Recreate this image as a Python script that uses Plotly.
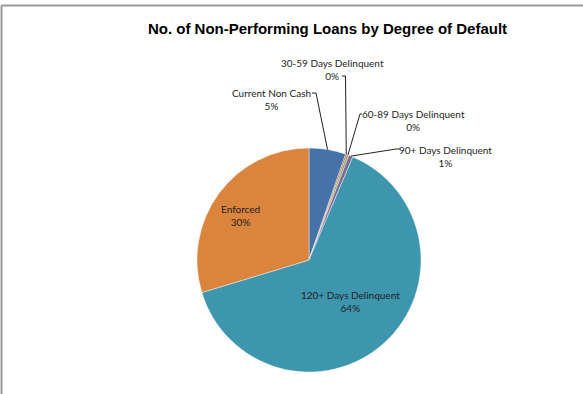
import math
import plotly.graph_objects as go

# Non-performing loans, share by degree of default (clockwise from 12 o'clock)
categories = [
    "Current Non Cash",
    "30-59 Days Delinquent",
    "60-89 Days Delinquent",
    "90+ Days Delinquent",
    "120+ Days Delinquent",
    "Enforced",
]
values = [5.3, 0.2, 0.3, 0.6, 63.9, 29.7]
colors = ["#4572A7", "#AA4643", "#89A54E", "#80699B", "#3D96AE", "#DB843D"]

W, H = 583, 394
CX, CY, R = 309, 260, 112  # pie centre and radius in pixels


def px(x):
    return x / W


def py(y):
    return 1 - y / H


total = sum(values)
pct = [f"{round(v / total * 100)}%" for v in values]

fig = go.Figure(
    go.Pie(
        labels=categories,
        values=values,
        sort=False,
        direction="clockwise",
        rotation=0,
        marker=dict(colors=colors, line=dict(color="rgba(255,255,255,0.7)", width=0.6)),
        textinfo="none",
        hoverinfo="label+percent",
        showlegend=False,
        domain=dict(x=[px(CX - R), px(CX + R)], y=[py(CY + R), py(CY - R)]),
    )
)


def edge_point(i):
    """Point on the rim at the middle angle of slice i."""
    start = sum(values[:i]) / total
    mid = start + values[i] / total / 2
    a = 2 * math.pi * mid
    return CX + R * math.sin(a), CY - R * math.cos(a)


label_font = dict(family="Lato, Calibri, sans-serif", size=10, color="#1e1e1e")

# label centres (pixels) and leader-line elbow points
label_pos = {
    0: (271, 99.5),
    1: (332, 69),
    2: (413.5, 120),
    3: (445.5, 156),
    4: (351, 301),
    5: (240, 215),
}
elbows = {
    0: [(312, 93), (316, 93)],
    1: [(342, 76), (345.5, 76)],
    2: [(362, 114), (360, 114)],
    3: [(400, 149), (396, 149)],
}

annotations = []
for i, (cx, cy) in label_pos.items():
    annotations.append(
        dict(
            x=px(cx), y=py(cy), xref="paper", yref="paper",
            text=f"{categories[i]}<br>{pct[i]}",
            showarrow=False, font=label_font, align="center",
            xanchor="center", yanchor="middle",
        )
    )

shapes = []
for i, pts in elbows.items():
    ex, ey = edge_point(i)
    path_pts = pts + [(ex, ey)]
    d = "M " + " L ".join(f"{px(x)},{py(y)}" for x, y in path_pts)
    shapes.append(
        dict(type="path", path=d, xref="paper", yref="paper",
             line=dict(color="#222222", width=1))
    )

# chart frame edges
shapes.append(dict(type="line", xref="paper", yref="paper",
                   x0=px(1.5), y0=py(5.5), x1=1, y1=py(5.5),
                   line=dict(color="#9a9a9a", width=2)))
shapes.append(dict(type="line", xref="paper", yref="paper",
                   x0=px(1.5), y0=py(5.5), x1=px(1.5), y1=0,
                   line=dict(color="#9a9a9a", width=2)))

fig.update_layout(
    width=W, height=H,
    margin=dict(l=0, r=0, t=0, b=0),
    paper_bgcolor="white",
    plot_bgcolor="white",
    title=dict(
        text="<b>No. of Non-Performing Loans by Degree of Default</b>",
        x=px(327.5), y=py(29), xanchor="center", yanchor="middle",
        font=dict(family="Liberation Sans, Arial, sans-serif", size=15, color="#000000"),
    ),
    annotations=annotations,
    shapes=shapes,
)

fig.write_html("out.html")
